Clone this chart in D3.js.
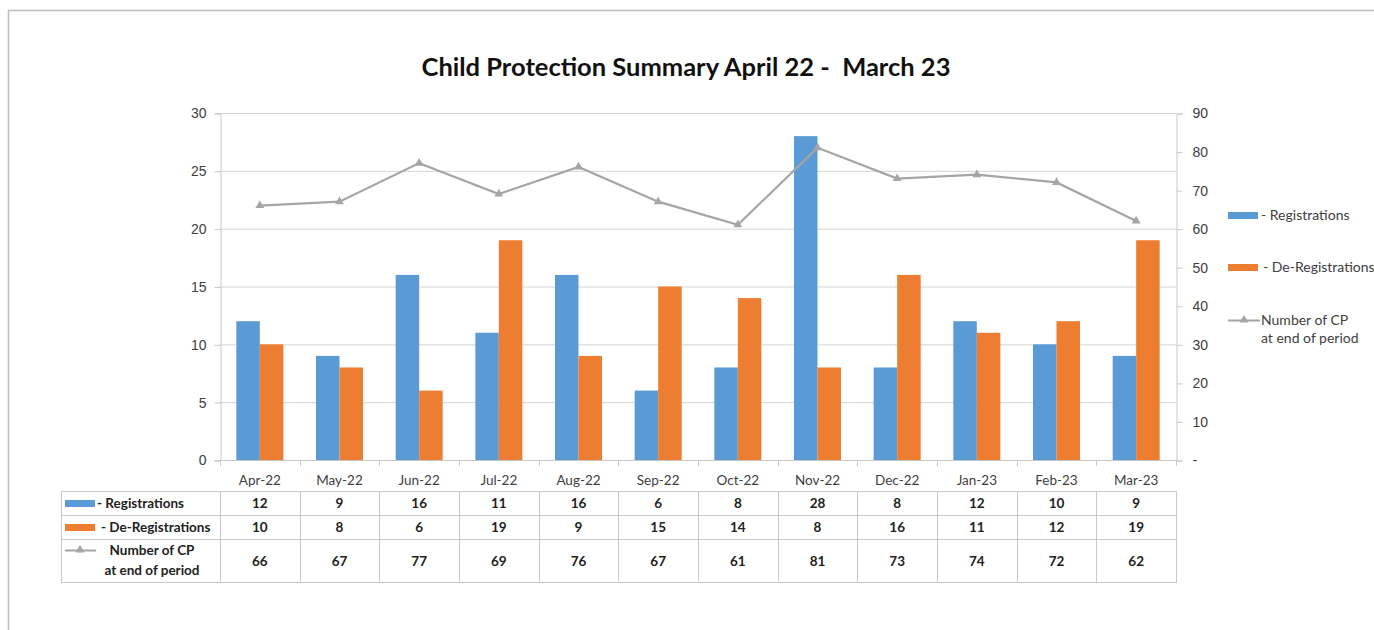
<!DOCTYPE html>
<html>
<head>
<meta charset="utf-8">
<script src="https://cdn.jsdelivr.net/npm/d3@7"></script>
<style>
  body { margin: 0; background: #fff; }
  svg { display: block; font-family: Lato, "Open Sans", sans-serif; }
</style>
</head>
<body>
<svg id="chart" width="1374" height="630"></svg>
<script>
var months = ["Apr-22", "May-22", "Jun-22", "Jul-22", "Aug-22", "Sep-22", "Oct-22", "Nov-22", "Dec-22", "Jan-23", "Feb-23", "Mar-23"];
var registrations = [12, 9, 16, 11, 16, 6, 8, 28, 8, 12, 10, 9];
var deRegistrations = [10, 8, 6, 19, 9, 15, 14, 8, 16, 11, 12, 19];
var numberOfCP = [66, 67, 77, 69, 76, 67, 61, 81, 73, 74, 72, 62];
var leftTicks = [0, 5, 10, 15, 20, 25, 30];
var rightTicks = [0, 10, 20, 30, 40, 50, 60, 70, 80, 90];

var BLUE = "#5b9bd5", ORANGE = "#ed7d31", GREY = "#a5a5a5";

var svg = d3.select("#chart");

// outer frame
svg.append("rect")
    .attr("x", 8.5).attr("y", 10.5)
    .attr("width", 1400).attr("height", 700)
    .attr("fill", "none")
    .attr("stroke", "#bdbdbd")
    .attr("stroke-width", 1.5);

var plot = {left: 220, right: 1176, top: 113, bottom: 460};

var x = d3.scaleBand()
    .domain(months)
    .range([plot.left, plot.right])
    .paddingInner(0.41)
    .paddingOuter(0.205);

var xSub = d3.scaleBand()
    .domain(["reg", "dereg"])
    .range([0, x.bandwidth()]);

var yLeft = d3.scaleLinear().domain([0, 30]).range([plot.bottom, plot.top]);
var yRight = d3.scaleLinear().domain([0, 90]).range([plot.bottom, plot.top]);

// title
svg.append("text")
    .attr("x", 686).attr("y", 76)
    .attr("text-anchor", "middle")
    .attr("font-size", 25.5)
    .attr("font-weight", "bold")
    .attr("fill", "#111")
    .attr("xml:space", "preserve")
    .text("Child Protection Summary April 22 -  March 23");

// gridlines
svg.append("g").selectAll("line")
    .data(leftTicks.slice(1))
    .enter().append("line")
    .attr("x1", plot.left).attr("x2", plot.right)
    .attr("y1", function(d) { return yLeft(d) + 0.5; })
    .attr("y2", function(d) { return yLeft(d) + 0.5; })
    .attr("stroke", "#d4d4d4");

// left axis
var leftAxis = svg.append("g")
    .attr("transform", "translate(" + (plot.left + 0.5) + ",0.5)")
    .call(d3.axisLeft(yLeft).tickValues(leftTicks).tickSize(6).tickPadding(8));
leftAxis.select(".domain").attr("stroke", "#c8c8c8");
leftAxis.selectAll(".tick line").attr("stroke", "#c8c8c8");
leftAxis.selectAll("text").attr("font-size", 14).attr("fill", "#404040");

// right axis
var rightAxis = svg.append("g")
    .attr("transform", "translate(" + (plot.right + 0.5) + ",0.5)")
    .call(d3.axisRight(yRight).tickValues(rightTicks).tickSize(6).tickPadding(10)
        .tickFormat(function(d) { return d === 0 ? "-" : d; }));
rightAxis.select(".domain").attr("stroke", "#c8c8c8");
rightAxis.selectAll(".tick line").attr("stroke", "#c8c8c8");
rightAxis.selectAll("text").attr("font-size", 14).attr("fill", "#404040");

// bars
var bars = svg.append("g");
bars.selectAll(".reg")
    .data(registrations)
    .enter().append("rect")
    .attr("class", "reg")
    .attr("x", function(d, i) { return x(months[i]) + xSub("reg"); })
    .attr("y", function(d) { return yLeft(d); })
    .attr("width", xSub.bandwidth())
    .attr("height", function(d) { return yLeft(0) - yLeft(d); })
    .attr("fill", BLUE);
bars.selectAll(".dereg")
    .data(deRegistrations)
    .enter().append("rect")
    .attr("class", "dereg")
    .attr("x", function(d, i) { return x(months[i]) + xSub("dereg"); })
    .attr("y", function(d) { return yLeft(d); })
    .attr("width", xSub.bandwidth())
    .attr("height", function(d) { return yLeft(0) - yLeft(d); })
    .attr("fill", ORANGE);

// baseline + category ticks
svg.append("line")
    .attr("x1", plot.left).attr("x2", plot.right)
    .attr("y1", plot.bottom + 0.5).attr("y2", plot.bottom + 0.5)
    .attr("stroke", "#c8c8c8");
svg.append("g").selectAll("line")
    .data(d3.range(months.length + 1))
    .enter().append("line")
    .attr("x1", function(i) { return Math.round(plot.left + i * x.step()) + 0.5; })
    .attr("x2", function(i) { return Math.round(plot.left + i * x.step()) + 0.5; })
    .attr("y1", plot.bottom).attr("y2", plot.bottom + 6)
    .attr("stroke", "#c8c8c8");

// month labels
svg.append("g").selectAll("text")
    .data(months)
    .enter().append("text")
    .attr("x", function(d) { return x(d) + x.bandwidth() / 2; })
    .attr("y", 485)
    .attr("text-anchor", "middle")
    .attr("font-size", 13.5)
    .attr("fill", "#404040")
    .text(function(d) { return d; });

// CP line
var tri = d3.symbol().type(d3.symbolTriangle).size(34);
var line = d3.line()
    .x(function(d, i) { return x(months[i]) + x.bandwidth() / 2; })
    .y(function(d) { return yRight(d); });
svg.append("path")
    .datum(numberOfCP)
    .attr("d", line)
    .attr("fill", "none")
    .attr("stroke", GREY)
    .attr("stroke-width", 2.2);
svg.append("g").selectAll("path")
    .data(numberOfCP)
    .enter().append("path")
    .attr("d", tri)
    .attr("transform", function(d, i) {
        return "translate(" + (x(months[i]) + x.bandwidth() / 2) + "," + yRight(d) + ")";
    })
    .attr("fill", GREY);

// legend
var legend = svg.append("g").attr("font-size", 14).attr("fill", "#404040");
legend.append("rect").attr("x", 1228).attr("y", 212).attr("width", 30).attr("height", 7).attr("fill", BLUE);
legend.append("text").attr("x", 1261).attr("y", 220).attr("fill", "#404040").text("- Registrations");
legend.append("rect").attr("x", 1228).attr("y", 264).attr("width", 30).attr("height", 7).attr("fill", ORANGE);
legend.append("text").attr("x", 1263).attr("y", 272).attr("fill", "#404040").text(" - De-Registrations");
legend.append("line").attr("x1", 1228).attr("x2", 1260).attr("y1", 320.5).attr("y2", 320.5)
    .attr("stroke", GREY).attr("stroke-width", 2);
legend.append("path").attr("d", tri).attr("transform", "translate(1244,320)").attr("fill", GREY);
legend.append("text").attr("x", 1261).attr("y", 325).attr("fill", "#404040").text("Number of CP");
legend.append("text").attr("x", 1261).attr("y", 343).attr("fill", "#404040").text("at end of period");

// data table
var rows = [
    {values: registrations, top: 491, bottom: 515},
    {values: deRegistrations, top: 515, bottom: 539},
    {values: numberOfCP, top: 539, bottom: 582}
];
var table = svg.append("g");
var tableLeft = 61;
var gridColor = "#c8c8c8";

rows.forEach(function(r) {
    table.append("line")
        .attr("x1", tableLeft).attr("x2", plot.right)
        .attr("y1", r.top + 0.5).attr("y2", r.top + 0.5)
        .attr("stroke", gridColor);
});
table.append("line")
    .attr("x1", tableLeft).attr("x2", plot.right)
    .attr("y1", 582.5).attr("y2", 582.5)
    .attr("stroke", gridColor);
table.append("line")
    .attr("x1", tableLeft + 0.5).attr("x2", tableLeft + 0.5)
    .attr("y1", 491).attr("y2", 583)
    .attr("stroke", gridColor);
table.selectAll(".col")
    .data(d3.range(months.length + 1))
    .enter().append("line")
    .attr("x1", function(i) { return Math.round(plot.left + i * x.step()) + 0.5; })
    .attr("x2", function(i) { return Math.round(plot.left + i * x.step()) + 0.5; })
    .attr("y1", 491).attr("y2", 583)
    .attr("stroke", gridColor);

rows.forEach(function(r) {
    table.append("g").selectAll("text")
        .data(r.values)
        .enter().append("text")
        .attr("x", function(d, i) { return x(months[i]) + x.bandwidth() / 2; })
        .attr("y", (r.top + r.bottom) / 2 + 5)
        .attr("text-anchor", "middle")
        .attr("font-size", 13.5)
        .attr("font-weight", "bold")
        .attr("fill", "#222")
        .text(function(d) { return d; });
});

// table row keys
table.append("rect").attr("x", 65).attr("y", 500).attr("width", 30).attr("height", 7).attr("fill", BLUE);
table.append("text").attr("x", 97).attr("y", 508).attr("font-size", 13.5).attr("font-weight", "bold")
    .attr("fill", "#222").text("- Registrations");
table.append("rect").attr("x", 65).attr("y", 524).attr("width", 30).attr("height", 7).attr("fill", ORANGE);
table.append("text").attr("x", 101).attr("y", 532).attr("font-size", 13.5).attr("font-weight", "bold")
    .attr("fill", "#222").text(" - De-Registrations");
table.append("line").attr("x1", 65).attr("x2", 96).attr("y1", 550.5).attr("y2", 550.5)
    .attr("stroke", GREY).attr("stroke-width", 2);
table.append("path").attr("d", tri).attr("transform", "translate(80,550)").attr("fill", GREY);
table.append("text").attr("x", 152).attr("y", 555).attr("text-anchor", "middle").attr("font-size", 13.5)
    .attr("font-weight", "bold").attr("fill", "#222").text("Number of CP");
table.append("text").attr("x", 152).attr("y", 575).attr("text-anchor", "middle").attr("font-size", 13.5)
    .attr("font-weight", "bold").attr("fill", "#222").text("at end of period");
</script>
</body>
</html>
